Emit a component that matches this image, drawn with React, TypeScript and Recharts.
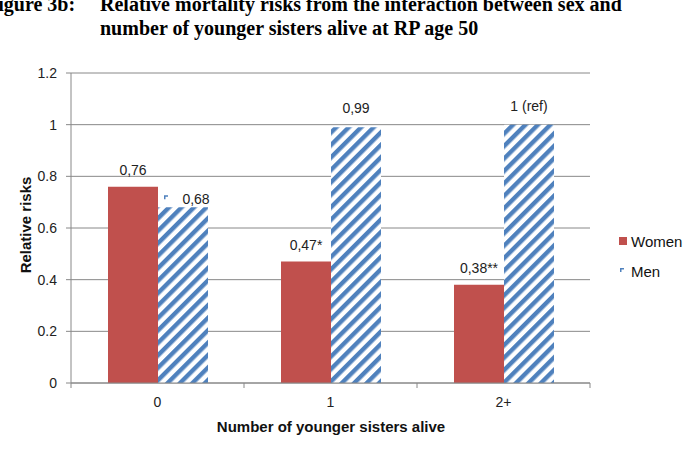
import { BarChart, Bar, XAxis, YAxis, CartesianGrid, LabelList } from "recharts";

const categories = ["0", "1", "2+"];
const womenValues = [0.76, 0.47, 0.38];
const menValues = [0.68, 0.99, 1];
const womenLabels = ["0,76", "0,47*", "0,38**"];
const menLabels = ["0,68", "0,99", "1 (ref)"];
const yTicks = [0, 0.2, 0.4, 0.6, 0.8, 1, 1.2];

const RED = "#c0504d";
const BLUE = "#4f81bd";
const GRID = "#888888";
const SANS = "'Liberation Sans', Arial, sans-serif";
const TEXT = "#222";

const data = categories.map((c, i) => ({
  cat: c,
  women: womenValues[i],
  men: menValues[i],
  womenLabel: womenLabels[i],
  menLabel: menLabels[i],
}));

function XTick(props: any) {
  const { x, y, payload, index } = props;
  const half = 173 / 2;
  return (
    <g>
      <line x1={x - half} x2={x - half} y1={y - 8} y2={y - 3} stroke={GRID} />
      {index === categories.length - 1 && (
        <line x1={x + half} x2={x + half} y1={y - 8} y2={y - 3} stroke={GRID} />
      )}
      <text x={x} y={y + 16} textAnchor="middle" fontSize={14} fontFamily={SANS} fill={TEXT}>
        {payload.value}
      </text>
    </g>
  );
}

// tiny legend key, as Excel draws it for the hatched series
function MenKey({ x, y }: { x: number; y: number }) {
  return <polygon points={`${x},${y} ${x + 4},${y} ${x + 4},${y + 1.5} ${x + 1.5},${y + 1.5} ${x + 1.5},${y + 4} ${x},${y + 4}`} fill={BLUE} />;
}

function MenLabel(props: any) {
  const { x, y, width, value, index } = props;
  const cx = x + width / 2;
  if (index === 0) {
    // label was dragged aside in the original and carries the legend key
    return (
      <g>
        <MenKey x={cx - 19} y={y - 12} />
        <text x={cx + 13} y={y - 3} textAnchor="middle" fontSize={14} fontFamily={SANS} fill={TEXT}>
          {value}
        </text>
      </g>
    );
  }
  return (
    <text x={cx} y={y - 14} textAnchor="middle" fontSize={14} fontFamily={SANS} fill={TEXT}>
      {value}
    </text>
  );
}

function WomenLabel(props: any) {
  const { x, y, width, value } = props;
  return (
    <text x={x + width / 2} y={y - 12} textAnchor="middle" fontSize={14} fontFamily={SANS} fill={TEXT}>
      {value}
    </text>
  );
}

export default function App() {
  return (
    <div style={{ position: "absolute", left: 0, top: 0, width: 700, height: 456, background: "#fff", overflow: "hidden" }}>
      <div
        style={{
          position: "absolute",
          left: -14,
          top: -8,
          fontFamily: "'Liberation Serif', 'Times New Roman', serif",
          fontWeight: "bold",
          fontSize: 20,
          lineHeight: "24px",
          whiteSpace: "nowrap",
          color: "#000",
        }}
      >
        <span>Figure 3b:</span>
        <div style={{ position: "absolute", left: 114, top: 0 }}>
          Relative mortality risks from the interaction between sex and
          <br />
          number of younger sisters alive at RP age 50
        </div>
      </div>

      <BarChart
        width={700}
        height={456}
        data={data}
        margin={{ top: 73, right: 110, left: 0, bottom: 0 }}
        barGap={0}
        barCategoryGap={37}
      >
        <defs>
          <pattern id="menHatch" width="8.8" height="8.8" patternUnits="userSpaceOnUse" patternTransform="rotate(45)">
            <rect width="8.8" height="8.8" fill="#fff" />
            <rect width="4.4" height="8.8" fill={BLUE} />
          </pattern>
        </defs>
        <CartesianGrid vertical={false} stroke={GRID} />
        <XAxis
          dataKey="cat"
          height={73}
          axisLine={{ stroke: GRID }}
          tickLine={false}
          tick={<XTick />}
          interval={0}
        />
        <YAxis
          width={71}
          domain={[0, 1.2]}
          ticks={yTicks}
          interval={0}
          axisLine={{ stroke: GRID }}
          tickLine={{ stroke: GRID }}
          tickSize={5}
          tickMargin={9}
          tick={{ fontSize: 14, fontFamily: SANS, fill: TEXT }}
        />
        <Bar dataKey="women" fill={RED} isAnimationActive={false}>
          <LabelList dataKey="womenLabel" content={<WomenLabel />} />
        </Bar>
        <Bar dataKey="men" fill="url(#menHatch)" isAnimationActive={false}>
          <LabelList dataKey="menLabel" content={<MenLabel />} />
        </Bar>
      </BarChart>

      <div
        style={{
          position: "absolute",
          left: 25,
          top: 225,
          transform: "translate(-50%, -50%) rotate(-90deg)",
          fontFamily: SANS,
          fontWeight: "bold",
          fontSize: 15,
          whiteSpace: "nowrap",
          color: "#111",
        }}
      >
        Relative risks
      </div>
      <div
        style={{
          position: "absolute",
          left: 331,
          top: 418,
          transform: "translateX(-50%)",
          fontFamily: SANS,
          fontWeight: "bold",
          fontSize: 15,
          whiteSpace: "nowrap",
          color: "#111",
        }}
      >
        Number of younger sisters alive
      </div>

      <div style={{ position: "absolute", left: 619, top: 231, fontFamily: SANS, fontSize: 15, color: "#111" }}>
        <div style={{ display: "flex", alignItems: "center", height: 20 }}>
          <span style={{ display: "inline-block", width: 8, height: 8, background: RED, marginRight: 4 }} />
          Women
        </div>
        <div style={{ display: "flex", alignItems: "center", height: 20, marginTop: 10 }}>
          <svg width={8} height={8} style={{ marginRight: 4 }}>
            <MenKey x={1} y={1} />
          </svg>
          Men
        </div>
      </div>
    </div>
  );
}
